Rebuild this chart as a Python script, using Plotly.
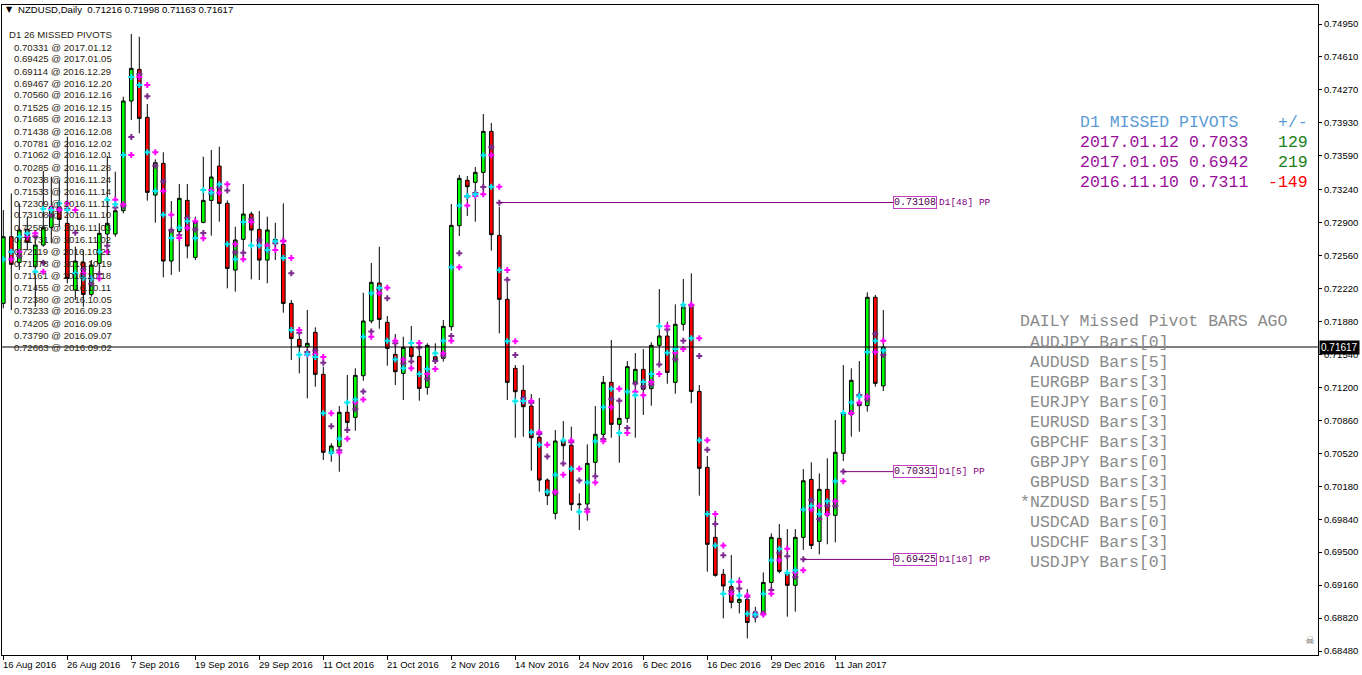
import plotly.graph_objects as go

# ---------------- DATA ----------------
dates = [
    "2016.08.16", "2016.08.17", "2016.08.18", "2016.08.19", "2016.08.22", "2016.08.23", "2016.08.24", "2016.08.25",
    "2016.08.26", "2016.08.29", "2016.08.30", "2016.08.31",
    "2016.09.01", "2016.09.02", "2016.09.05", "2016.09.06", "2016.09.07", "2016.09.08", "2016.09.09", "2016.09.12",
    "2016.09.13", "2016.09.14", "2016.09.15", "2016.09.16", "2016.09.19", "2016.09.20", "2016.09.21", "2016.09.22",
    "2016.09.23", "2016.09.26", "2016.09.27", "2016.09.28", "2016.09.29", "2016.09.30",
    "2016.10.03", "2016.10.04", "2016.10.05", "2016.10.06", "2016.10.07", "2016.10.10", "2016.10.11", "2016.10.12",
    "2016.10.13", "2016.10.14", "2016.10.17", "2016.10.18", "2016.10.19", "2016.10.20", "2016.10.21", "2016.10.24",
    "2016.10.25", "2016.10.26", "2016.10.27", "2016.10.28", "2016.10.31",
    "2016.11.01", "2016.11.02", "2016.11.03", "2016.11.04", "2016.11.07", "2016.11.08", "2016.11.09", "2016.11.10",
    "2016.11.11", "2016.11.14", "2016.11.15", "2016.11.16", "2016.11.17", "2016.11.18", "2016.11.21", "2016.11.22",
    "2016.11.23", "2016.11.24", "2016.11.25", "2016.11.28", "2016.11.29", "2016.11.30",
    "2016.12.01", "2016.12.02", "2016.12.05", "2016.12.06", "2016.12.07", "2016.12.08", "2016.12.09", "2016.12.12",
    "2016.12.13", "2016.12.14", "2016.12.15", "2016.12.16", "2016.12.19", "2016.12.20", "2016.12.21", "2016.12.22",
    "2016.12.23", "2016.12.27", "2016.12.28", "2016.12.29", "2016.12.30",
    "2017.01.03", "2017.01.04", "2017.01.05", "2017.01.06", "2017.01.09", "2017.01.10", "2017.01.11", "2017.01.12",
    "2017.01.13", "2017.01.16", "2017.01.17", "2017.01.18", "2017.01.19",
]

opens = [
    0.72067, 0.72755, 0.72490, 0.72831, 0.72446, 0.72669, 0.72852, 0.73065, 0.72893, 0.72205,
    0.72490, 0.72160, 0.72480, 0.72783, 0.72783, 0.73024, 0.74155, 0.74482, 0.73987, 0.73185,
    0.73512, 0.72504, 0.72807, 0.73130, 0.72542, 0.72903, 0.73130, 0.73484, 0.73099, 0.72411,
    0.72728, 0.72989, 0.72831, 0.72514, 0.72714, 0.72676, 0.72067, 0.71696, 0.71620, 0.71768,
    0.71335, 0.70519, 0.70588, 0.70943, 0.70891, 0.71321, 0.71885, 0.72277, 0.71871, 0.71541,
    0.71345, 0.71613, 0.71520, 0.71200, 0.71517, 0.71500, 0.71827, 0.72869, 0.73337, 0.73316,
    0.73419, 0.73842, 0.72769, 0.72109, 0.71397, 0.71170, 0.71008, 0.70685, 0.70244, 0.69900,
    0.70647, 0.70602, 0.69990, 0.69997, 0.70427, 0.70716, 0.71252, 0.70819, 0.70881, 0.71235,
    0.71386, 0.71187, 0.71634, 0.71730, 0.71252, 0.71851, 0.72030, 0.71159, 0.70375, 0.69653,
    0.69271, 0.69144, 0.68982, 0.69013, 0.68827, 0.68879, 0.69188, 0.69642, 0.69271, 0.69158,
    0.69653, 0.70251, 0.69611, 0.70148, 0.69880, 0.70520, 0.70922, 0.71043, 0.71012, 0.72130,
    0.71216,
]
highs = [
    0.73030, 0.73202, 0.73099, 0.72962, 0.72755, 0.73433, 0.73374, 0.73340, 0.73787, 0.72652,
    0.72618, 0.72514, 0.72893, 0.73588, 0.73426, 0.74200, 0.74847, 0.74819, 0.74124, 0.73553,
    0.73626, 0.73123, 0.73299, 0.73299, 0.72962, 0.73581, 0.73650, 0.73684, 0.73130, 0.72858,
    0.73299, 0.73013, 0.73020, 0.72962, 0.72900, 0.73099, 0.72102, 0.71730, 0.71999, 0.71820,
    0.71414, 0.70623, 0.71008, 0.71328, 0.71397, 0.72177, 0.72484, 0.72652, 0.71937, 0.71751,
    0.71723, 0.71834, 0.71613, 0.71655, 0.71655, 0.71895, 0.73093, 0.73392, 0.73381, 0.73474,
    0.74021, 0.73928, 0.73065, 0.72281, 0.71431, 0.71431, 0.71132, 0.71091, 0.70261, 0.70760,
    0.70853, 0.70795, 0.70107, 0.70612, 0.71008, 0.71318, 0.71689, 0.71036, 0.71472, 0.71555,
    0.71596, 0.71665, 0.72215, 0.71878, 0.72057, 0.72319, 0.72377, 0.71225, 0.70492, 0.69893,
    0.69326, 0.69470, 0.69240, 0.69120, 0.68937, 0.69291, 0.69694, 0.69790, 0.69739, 0.69739,
    0.70358, 0.70427, 0.70313, 0.70468, 0.70864, 0.71431, 0.71397, 0.71472, 0.72181, 0.72154,
    0.71998,
]
lows = [
    0.72016, 0.71998, 0.72411, 0.72618, 0.72033, 0.72652, 0.72686, 0.72858, 0.72274, 0.72102,
    0.72033, 0.72136, 0.72306, 0.72686, 0.72755, 0.72996, 0.73959, 0.73822, 0.73127, 0.72900,
    0.72336, 0.72360, 0.72394, 0.72532, 0.72514, 0.72893, 0.72766, 0.72910, 0.72222, 0.72188,
    0.72514, 0.72315, 0.72308, 0.72274, 0.72514, 0.71971, 0.71483, 0.71345, 0.71087, 0.71207,
    0.70451, 0.70433, 0.70330, 0.70760, 0.70753, 0.71269, 0.71861, 0.71806, 0.71424, 0.71225,
    0.71070, 0.71483, 0.71063, 0.71125, 0.71448, 0.71466, 0.71785, 0.72762, 0.72969, 0.72910,
    0.73168, 0.72611, 0.71758, 0.71070, 0.70681, 0.70691, 0.70341, 0.70124, 0.69986, 0.69838,
    0.70451, 0.69928, 0.69728, 0.69825, 0.70279, 0.70674, 0.70681, 0.70423, 0.70836, 0.70681,
    0.70915, 0.71011, 0.71448, 0.71238, 0.71135, 0.71785, 0.71036, 0.70083, 0.69298, 0.69247,
    0.68817, 0.68920, 0.68868, 0.68610, 0.68775, 0.68851, 0.69137, 0.69281, 0.68834, 0.68886,
    0.69522, 0.69532, 0.69477, 0.69581, 0.69601, 0.70441, 0.70692, 0.70743, 0.70950, 0.71208,
    0.71163,
]
closes = [
    0.72755, 0.72470, 0.72824, 0.72697, 0.72669, 0.72848, 0.73065, 0.72934, 0.72325, 0.72504,
    0.72160, 0.72463, 0.72790, 0.72893, 0.73024, 0.74155, 0.74492, 0.73976, 0.73213, 0.73519,
    0.72504, 0.72831, 0.73151, 0.72659, 0.72903, 0.73130, 0.73371, 0.73099, 0.72428, 0.72721,
    0.72989, 0.72824, 0.72514, 0.72824, 0.72728, 0.72067, 0.71706, 0.71620, 0.71655, 0.71335,
    0.70530, 0.70595, 0.70943, 0.70839, 0.71324, 0.71885, 0.72284, 0.71902, 0.71603, 0.71362,
    0.71613, 0.71517, 0.71190, 0.71634, 0.71483, 0.71830, 0.72872, 0.73357, 0.73271, 0.73419,
    0.73842, 0.72776, 0.72109, 0.71252, 0.71156, 0.71001, 0.70681, 0.70244, 0.70083, 0.70647,
    0.70599, 0.69993, 0.69996, 0.70416, 0.70716, 0.71252, 0.70819, 0.70881, 0.71414, 0.71386,
    0.71180, 0.71634, 0.71730, 0.71355, 0.71851, 0.72030, 0.71159, 0.70365, 0.69581, 0.69261,
    0.69151, 0.68982, 0.69013, 0.68775, 0.68886, 0.69188, 0.69653, 0.69302, 0.69158, 0.69653,
    0.70237, 0.69570, 0.70148, 0.69880, 0.70530, 0.70932, 0.71273, 0.71012, 0.72130, 0.71242,
    0.71617,
]

y_tick_values = [0.74950, 0.74610, 0.74270, 0.73930, 0.73590, 0.73240, 0.72900, 0.72560, 0.72220, 0.71880,
                 0.71540, 0.71200, 0.70860, 0.70520, 0.70180, 0.69840, 0.69500, 0.69160, 0.68820, 0.68480]
x_tick_labels = ["16 Aug 2016", "26 Aug 2016", "7 Sep 2016", "19 Sep 2016", "29 Sep 2016", "11 Oct 2016",
                 "21 Oct 2016", "2 Nov 2016", "14 Nov 2016", "24 Nov 2016", "6 Dec 2016", "16 Dec 2016",
                 "29 Dec 2016", "11 Jan 2017"]
x_tick_dates = ["2016.08.16", "2016.08.26", "2016.09.07", "2016.09.19", "2016.09.29", "2016.10.11",
                "2016.10.21", "2016.11.02", "2016.11.14", "2016.11.24", "2016.12.06", "2016.12.16",
                "2016.12.29", "2017.01.11"]

missed_pivot_values = ["0.70331", "0.69425", "0.69114", "0.69467", "0.70560", "0.71525", "0.71685", "0.71438",
                       "0.70781", "0.71062", "0.70285", "0.70238", "0.71533", "0.72309", "0.73108", "0.72585",
                       "0.71731", "0.72119", "0.71778", "0.71161", "0.71455", "0.72380", "0.73233", "0.74205",
                       "0.73790", "0.72663"]
missed_pivot_dates = ["2017.01.12", "2017.01.05", "2016.12.29", "2016.12.20", "2016.12.16", "2016.12.15",
                      "2016.12.13", "2016.12.08", "2016.12.02", "2016.12.01", "2016.11.28", "2016.11.24",
                      "2016.11.14", "2016.11.11", "2016.11.10", "2016.11.03", "2016.11.02", "2016.10.21",
                      "2016.10.19", "2016.10.18", "2016.10.11", "2016.10.05", "2016.09.23", "2016.09.09",
                      "2016.09.07", "2016.09.02"]

line_pivot_dates = ["2016.11.10", "2017.01.12", "2017.01.05"]
line_pivot_values = [0.73108, 0.70331, 0.69425]
line_pivot_bars_ago = [48, 5, 10]

panel_dates = ["2017.01.12", "2017.01.05", "2016.11.10"]
panel_values = ["0.7033", "0.6942", "0.7311"]
panel_diffs = [129, 219, -149]

symbols = ["AUDJPY", "AUDUSD", "EURGBP", "EURJPY", "EURUSD", "GBPCHF", "GBPJPY", "GBPUSD",
           "NZDUSD", "USDCAD", "USDCHF", "USDJPY"]
symbol_bars_ago = [0, 5, 3, 0, 3, 3, 0, 3, 5, 0, 3, 0]
current_symbol = "NZDUSD"

# ---------------- LAYOUT CONSTANTS ----------------
W, H = 1362, 675
ML, MR, MT, MB = 2, 44, 5, 20
PW, PH = W - ML - MR, H - MT - MB
BAR_PX = 8.0
X0_PX = 3.3          # pixel centre of first bar
PX_PER_PRICE = 9691.0
Y_REF_PRICE, Y_REF_PX = 0.74950, 24.0

x_min = (ML - X0_PX) / BAR_PX
x_max = (ML + PW - X0_PX) / BAR_PX
y_max = Y_REF_PRICE + (Y_REF_PX - MT) / PX_PER_PRICE
y_min = Y_REF_PRICE - (MT + PH - Y_REF_PX) / PX_PER_PRICE


def pxx(px):
    return (px - ML) / PW


def pxy(py):
    return (MT + PH - py) / PH


n = len(dates)
xs = list(range(n))
idx = {d: i for i, d in enumerate(dates)}

fig = go.Figure()
fig.add_trace(go.Candlestick(
    x=xs, open=opens, high=highs, low=lows, close=closes,
    increasing=dict(line=dict(color="black", width=1), fillcolor="#00FF00"),
    decreasing=dict(line=dict(color="black", width=1), fillcolor="#FF0000"),
    whiskerwidth=0, hoverinfo="skip", showlegend=False,
))

# indicator markers: bar midpoint (on the bar, and repeated on the next bar) and pivot (on the next bar)
mid = [(h + l) / 2 for h, l in zip(highs, lows)]
piv = [(h + l + c) / 3 for h, l, c in zip(highs, lows, closes)]
next_x = [x + 1 for x in xs[:-1]]
MK = 5
fig.add_trace(go.Scatter(x=next_x, y=piv[:-1], mode="markers",
                         marker=dict(symbol="cross", size=MK, color="#7D2A8E", line=dict(width=0)),
                         hoverinfo="skip", showlegend=False))
fig.add_trace(go.Scatter(x=next_x, y=mid[:-1], mode="markers",
                         marker=dict(symbol="cross", size=MK, color="#FF00FF", line=dict(width=0)),
                         hoverinfo="skip", showlegend=False))
fig.add_trace(go.Scatter(x=xs, y=mid, mode="markers",
                         marker=dict(symbol="cross", size=MK, color="#00E8F0", line=dict(width=0)),
                         hoverinfo="skip", showlegend=False))

shapes = []
annotations = []

# current price line
shapes.append(dict(type="line", xref="paper", yref="y", x0=0, x1=1, y0=closes[-1], y1=closes[-1],
                   line=dict(color="black", width=1)))

# missed pivot lines with labels
label_x = (893 - X0_PX) / BAR_PX
for d, v, b in zip(line_pivot_dates, line_pivot_values, line_pivot_bars_ago):
    i = idx[d]
    shapes.append(dict(type="line", xref="x", yref="y", x0=i, x1=label_x, y0=v, y1=v,
                       line=dict(color="#800080", width=1)))
    annotations.append(dict(x=label_x, y=v, xref="x", yref="y", xanchor="left", yanchor="middle",
                            text=f"{v:.5f}", showarrow=False, bordercolor="#C040C0", borderwidth=1,
                            borderpad=0, bgcolor="white",
                            font=dict(family="Liberation Mono", size=10, color="#500050")))
    annotations.append(dict(x=label_x, y=v, xref="x", yref="y", xanchor="left", yanchor="middle", xshift=44,
                            text=f"D1[{b}] PP", showarrow=False,
                            font=dict(family="Liberation Mono", size=9.5, color="#800080")))

# header
annotations.append(dict(x=pxx(4), y=pxy(10), xref="paper", yref="paper", xanchor="left", yanchor="middle",
                        text="▼", showarrow=False, font=dict(family="DejaVu Sans", size=8, color="black")))
annotations.append(dict(x=pxx(16), y=pxy(10), xref="paper", yref="paper", xanchor="left", yanchor="middle",
                        text=f"NZDUSD,Daily  {opens[-1]:.5f} {highs[-1]:.5f} {lows[-1]:.5f} {closes[-1]:.5f}",
                        showarrow=False, font=dict(family="Liberation Sans", size=9.6, color="black")))

# left missed pivot list
LIST_COLOR = "#2a2410"
annotations.append(dict(x=pxx(7), y=pxy(35), xref="paper", yref="paper", xanchor="left", yanchor="middle",
                        text=f"D1 {len(missed_pivot_values)} MISSED PIVOTS", showarrow=False,
                        font=dict(family="Liberation Sans", size=9.6, color=LIST_COLOR)))
for k, (v, d) in enumerate(zip(missed_pivot_values, missed_pivot_dates)):
    annotations.append(dict(x=pxx(12), y=pxy(47 + 12 * k), xref="paper", yref="paper", xanchor="left",
                            yanchor="middle", text=f"{v} @ {d}", showarrow=False,
                            font=dict(family="Liberation Sans", size=9.6, color=LIST_COLOR)))

# right panel 1
MONO = "Liberation Mono"
annotations.append(dict(x=pxx(1078), y=pxy(122), xref="paper", yref="paper", xanchor="left", yanchor="middle",
                        text="D1 MISSED PIVOTS", showarrow=False, font=dict(family=MONO, size=16.5, color="#5A9BD5")))
annotations.append(dict(x=pxx(1310), y=pxy(122), xref="paper", yref="paper", xanchor="right", yanchor="middle",
                        text="+/-", showarrow=False, font=dict(family=MONO, size=16.5, color="#5A9BD5")))
for k, (d, v, df) in enumerate(zip(panel_dates, panel_values, panel_diffs)):
    yy = pxy(142 + 20 * k)
    annotations.append(dict(x=pxx(1078), y=yy, xref="paper", yref="paper", xanchor="left", yanchor="middle",
                            text=f"{d} {v}", showarrow=False, font=dict(family=MONO, size=16.5, color="#9A109A")))
    annotations.append(dict(x=pxx(1310), y=yy, xref="paper", yref="paper", xanchor="right", yanchor="middle",
                            text=str(df), showarrow=False,
                            font=dict(family=MONO, size=16.5, color="#FF0000" if df < 0 else "#1A7F1A")))

# right panel 2
GRAY = "#8a8a8a"
annotations.append(dict(x=pxx(1018), y=pxy(322), xref="paper", yref="paper", xanchor="left", yanchor="middle",
                        text="DAILY Missed Pivot BARS AGO", showarrow=False,
                        font=dict(family=MONO, size=16.5, color=GRAY)))
for k, (s, b) in enumerate(zip(symbols, symbol_bars_ago)):
    star = s == current_symbol
    annotations.append(dict(x=pxx(1018 if star else 1028), y=pxy(342 + 20 * k), xref="paper", yref="paper",
                            xanchor="left", yanchor="middle", text=("*" if star else "") + f"{s} Bars[{b}]",
                            showarrow=False, font=dict(family=MONO, size=16.5, color=GRAY)))

# current price tag on axis
annotations.append(dict(x=1, y=closes[-1], xref="paper", yref="y", xanchor="left", yanchor="middle", xshift=1,
                        text=f"{closes[-1]:.5f}", showarrow=False, bgcolor="black", borderpad=1,
                        font=dict(family="Liberation Sans", size=10, color="white")))

# x tick labels (left aligned at tick)
for lab, d in zip(x_tick_labels, x_tick_dates):
    annotations.append(dict(x=idx[d], y=0, xref="x", yref="paper", xanchor="left", yanchor="top", yshift=-2,
                            xshift=-2, text=lab, showarrow=False,
                            font=dict(family="Liberation Sans", size=9.5, color="black")))

# skull icon
annotations.append(dict(x=pxx(1310), y=pxy(640), xref="paper", yref="paper", xanchor="center", yanchor="middle",
                        text="☠", showarrow=False, font=dict(family="DejaVu Sans", size=11, color="#666666")))

fig.update_layout(
    width=W, height=H, margin=dict(l=ML, r=MR, t=MT, b=MB, pad=0),
    paper_bgcolor="white", plot_bgcolor="white",
    showlegend=False, shapes=shapes, annotations=annotations, boxgap=0.35,
    xaxis=dict(range=[x_min, x_max], showgrid=False, zeroline=False, showline=True, linecolor="black",
               linewidth=1, mirror=True, ticks="outside", ticklen=4, tickcolor="black",
               tickvals=[idx[d] for d in x_tick_dates], showticklabels=False,
               rangeslider=dict(visible=False), fixedrange=True),
    yaxis=dict(range=[y_min, y_max], side="right", showgrid=False, zeroline=False, showline=True,
               linecolor="black", linewidth=1, mirror=True, ticks="outside", ticklen=3, tickcolor="black",
               tickvals=y_tick_values, ticktext=[f"{v:.5f}" for v in y_tick_values],
               tickfont=dict(family="Liberation Sans", size=9.5, color="black"), fixedrange=True),
)

fig.write_html("out.html", config={"displayModeBar": False},
               post_script="document.body.style.margin='0px';document.body.style.overflow='hidden';")
